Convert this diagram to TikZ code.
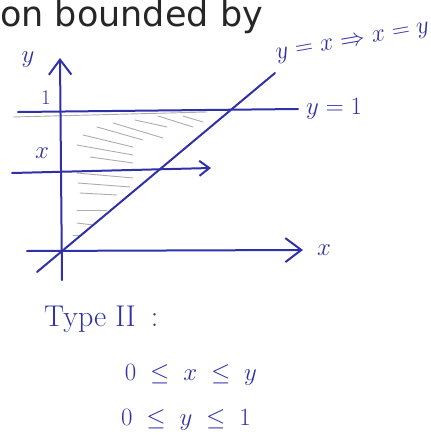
\documentclass[tikz,border=0pt]{standalone}
\usepackage{amsmath}
\usepackage{xcolor}
\usepackage{fontspec}
\usetikzlibrary{arrows.meta,positioning}
\newfontfamily\headfont{DejaVu Sans}
\definecolor{ink}{RGB}{48,48,168}
\tikzset{
  pen/.style={ink, line width=2pt, line cap=round},
  hatch/.style={gray!65, line width=0.9pt, line cap=round},
  hand/.style={ink, inner sep=0pt},
  barb/.style={-{Straight Barb[length=#1, width=1.5*#1]}}
}

\begin{document}
\begin{tikzpicture}[x=1pt, y=-1pt]
\useasboundingbox (0,0) rectangle (431,437);
% heading left over from the page above
\node[anchor=base west, inner sep=0pt, text=black!85, font=\headfont\fontsize{35}{35}\selectfont] (head) at (0,26) {on bounded by};
% end points of the axes and of the lines
\coordinate (ybot) at (62,280);
\coordinate (ytop) at (60,58);
\coordinate (xleft) at (27,251);
\coordinate (xright) at (303,250);
\coordinate (oneleft) at (18,112);
\coordinate (oneright) at (298,109);
\coordinate (diagbot) at (37,272);
\coordinate (diagtop) at (275,73);
\coordinate (stripleft) at (12,173);
\coordinate (stripright) at (211,168);
% pencil shading of the region
\draw[hatch] (13,117) -- (207,112);
\foreach \a/\b/\c/\d in {135/120/167/127, 158/116/193/127, 183/116/203/122, 113/123/163/138,
  97/127/143/140, 83/135/133/147, 77/145/133/155, 90/157/133/163, 77/173/133/178,
  78/183/130/187, 80/193/117/195, 77/210/107/210, 77/223/93/225, 73/235/80/235}
  \draw[hatch] (\a,\b) -- (\c,\d);
% axes, the line y = 1, the line y = x and the horizontal strip
\draw[pen, barb=15pt] (ybot) -- (ytop);
\draw[pen, barb=16pt] (xleft) -- (xright);
\draw[pen] (oneleft) -- (oneright);
\draw[pen] (diagbot) -- (diagtop);
\draw[pen, barb=10pt] (stripleft) -- (stripright);
% labels
\node[hand, font=\fontsize{24}{24}\selectfont] (ylab) at (28,60) {$y$};
\node[hand, font=\fontsize{22}{22}\selectfont] (onelab) at (46,98) {$1$};
\node[hand, font=\fontsize{26}{26}\selectfont] (xstrip) at (42,153) {$x$};
\node[hand, right=8pt of oneright, font=\fontsize{26}{26}\selectfont] (yone) {$y=1$};
\node[hand, right=14pt of xright, font=\fontsize{30}{30}\selectfont] (xlab) {$x$};
\node[hand, rotate=10, font=\fontsize{23}{23}\selectfont] (diaglab) at (353,43) {$y=x \Rightarrow x=y$};
% description of the region
\node[hand, anchor=base west, font=\fontsize{30}{30}\selectfont] (typelab) at (44,326) {Type\hspace{0.3em}II\hspace{0.5em}:};
\node[hand, font=\fontsize{30}{30}\selectfont] (ineqx) at (191,375) {$0 \;\le\; x \;\le\; y$};
\node[hand, font=\fontsize{30}{30}\selectfont] (ineqy) at (186,420) {$0 \;\le\; y \;\le\; 1$};
\end{tikzpicture}
\end{document}
